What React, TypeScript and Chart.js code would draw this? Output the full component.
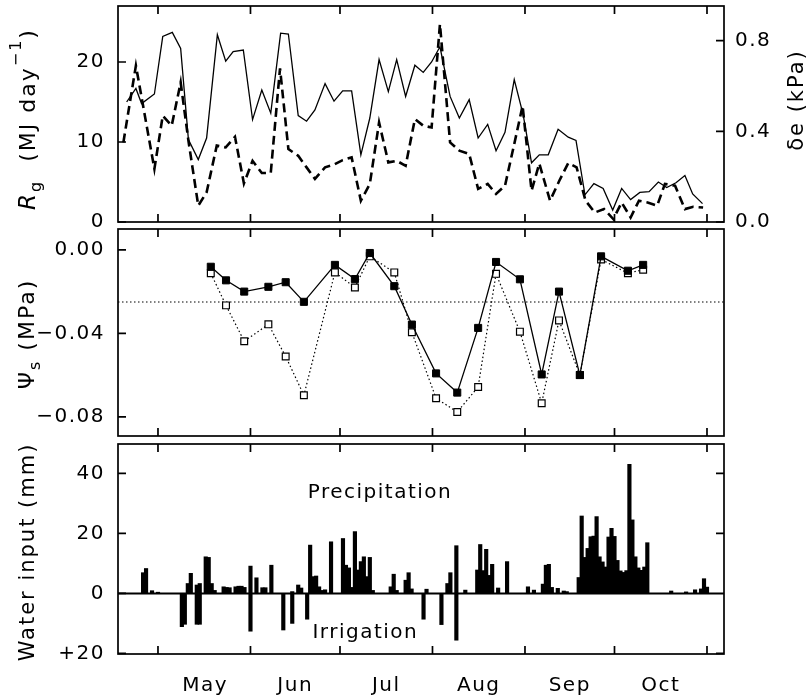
import React, { useEffect, useRef } from 'react';
import { Chart, registerables } from 'chart.js';

Chart.register(...registerables);

// ---------------- data ----------------
const monthTickDays = [121, 152, 182, 213, 244, 274, 305];
const monthLabels = ['May', 'Jun', 'Jul', 'Aug', 'Sep', 'Oct'];
const monthLabelDays = [136.8, 167, 197.5, 228.5, 259, 289.5];

const rgDays = [110.5, 113.6, 115.5, 119.8, 122.6, 125.8, 128.6, 131.2, 134.5, 137.3, 140.9, 143.7, 146.2, 149.6, 152.7, 155.8, 158.8, 162.1, 164.7, 168.0, 170.8, 173.6, 177.0, 180.0, 182.9, 185.9, 189.0, 192.0, 195.1, 198.2, 201.0, 204.0, 207.1, 209.9, 212.7, 215.5, 218.9, 222.0, 225.3, 228.3, 231.5, 234.3, 237.3, 240.4, 243.4, 246.2, 248.8, 251.8, 255.1, 258.5, 261.1, 264.1, 267.1, 270.2, 273.4, 276.4, 279.4, 282.5, 285.6, 288.7, 291.5, 294.6, 297.6, 300.2, 303.5];
const rgValues = [15.0, 16.7, 14.8, 16.0, 23.2, 23.7, 21.7, 10.3, 7.8, 10.5, 23.4, 20.1, 21.3, 21.5, 12.8, 16.5, 13.6, 23.6, 23.5, 13.3, 12.6, 14.0, 17.3, 15.1, 16.4, 16.4, 8.4, 13.0, 20.3, 16.3, 20.3, 15.7, 19.6, 18.7, 20.0, 21.9, 15.7, 13.0, 15.3, 10.5, 12.2, 8.9, 11.2, 17.8, 13.4, 7.4, 8.4, 8.4, 11.6, 10.6, 10.2, 3.4, 4.8, 4.2, 1.5, 4.2, 2.8, 3.7, 3.8, 5.0, 4.3, 4.9, 5.8, 3.5, 2.3];

const deDays = [109.4, 113.6, 119.8, 122.6, 125.6, 128.6, 131.2, 134.5, 137.3, 140.7, 143.7, 146.8, 149.8, 152.7, 155.8, 158.8, 161.9, 164.7, 168.0, 170.8, 173.6, 177.0, 180.0, 182.9, 185.9, 189.0, 192.0, 195.1, 198.2, 201.0, 204.0, 207.1, 209.9, 212.7, 215.5, 218.9, 222.0, 225.3, 228.3, 231.5, 234.3, 237.3, 240.4, 243.2, 246.2, 248.8, 252.4, 255.5, 258.5, 261.3, 264.3, 267.4, 270.5, 273.6, 276.4, 279.4, 282.2, 285.1, 288.3, 290.9, 294.3, 297.6, 300.4, 303.7];
const deValues = [0.351, 0.690, 0.234, 0.469, 0.425, 0.616, 0.359, 0.072, 0.131, 0.337, 0.329, 0.376, 0.170, 0.270, 0.216, 0.217, 0.678, 0.322, 0.292, 0.241, 0.190, 0.241, 0.253, 0.273, 0.285, 0.094, 0.168, 0.439, 0.263, 0.270, 0.248, 0.454, 0.425, 0.417, 0.873, 0.351, 0.315, 0.300, 0.146, 0.168, 0.124, 0.160, 0.344, 0.513, 0.138, 0.258, 0.094, 0.182, 0.260, 0.241, 0.094, 0.042, 0.057, 0.013, 0.086, 0.020, 0.094, 0.086, 0.072, 0.168, 0.160, 0.057, 0.067, 0.064];

const psiDays = [138.7, 143.8, 149.9, 158.0, 163.8, 169.9, 180.3, 187.0, 192.0, 200.2, 206.1, 214.2, 221.3, 228.3, 234.3, 242.3, 249.6, 255.4, 262.4, 269.5, 278.5, 283.6];
const psiFilled = [-0.0081, -0.0146, -0.0200, -0.0177, -0.0155, -0.0249, -0.0072, -0.0140, -0.0015, -0.0174, -0.0358, -0.0592, -0.0684, -0.0374, -0.0058, -0.0141, -0.0597, -0.0200, -0.0600, -0.0031, -0.0100, -0.0072];
const psiOpen = [-0.0112, -0.0266, -0.0438, -0.0357, -0.0511, -0.0697, -0.0108, -0.0180, -0.0031, -0.0108, -0.0395, -0.0711, -0.0777, -0.0657, -0.0115, -0.0392, -0.0735, -0.0338, -0.0600, -0.0046, -0.0112, -0.0095];
const psiReference = -0.025;

const rainDays = [116, 117, 119, 121, 131, 132, 134, 135, 137, 138, 139, 140, 143, 144, 145, 147, 148, 149, 150, 152, 154, 156, 157, 159, 166, 168, 169, 172, 173, 174, 175, 176, 177, 179, 183, 184, 185, 186, 187, 188, 189, 190, 191, 192, 193, 199, 200, 201, 204, 205, 206, 211, 218, 219, 221, 224, 228, 229, 230, 231, 232, 233, 235, 238, 245, 247, 250, 251, 252, 253, 255, 257, 258, 262, 263, 264, 265, 266, 267, 268, 269, 270, 271, 272, 273, 274, 275, 276, 277, 278, 279, 280, 281, 282, 283, 284, 285, 293, 298, 301, 303, 304, 305];
const rainValues = [6.9, 8.3, 0.9, 0.4, 3.3, 6.7, 2.8, 3.3, 12.2, 12.0, 3.3, 1.0, 2.2, 2.0, 1.9, 2.2, 2.4, 2.4, 2.0, 9.1, 5.2, 1.9, 1.9, 9.4, 0.6, 2.8, 1.8, 16.1, 5.6, 5.8, 2.2, 1.0, 1.2, 17.2, 18.3, 9.4, 8.5, 2.0, 20.6, 7.8, 10.6, 12.2, 5.6, 12.0, 1.0, 2.2, 6.4, 1.0, 4.4, 6.9, 1.5, 1.4, 3.3, 6.9, 15.9, 1.1, 7.8, 16.3, 7.6, 14.7, 6.0, 9.7, 1.8, 10.6, 2.2, 1.1, 3.1, 9.4, 9.7, 2.0, 1.7, 0.8, 0.6, 5.3, 25.8, 12.0, 15.0, 18.9, 19.1, 25.6, 12.2, 10.5, 8.8, 18.8, 21.7, 19.0, 11.0, 7.5, 7.0, 7.6, 43.0, 24.5, 12.2, 8.5, 7.7, 8.8, 16.9, 0.8, 0.5, 1.2, 1.5, 4.9, 2.1];

const irrigDays = [129, 130, 134, 135, 152, 163, 166, 171, 210, 216, 221];
const irrigValues = [-11.1, -10.3, -10.3, -10.3, -12.6, -12.2, -10.0, -8.6, -8.6, -10.4, -15.6];

const rgTicks = [0, 10, 20];
const deTicks = [0, 0.4, 0.8];
const psiTicks = [0, -0.04, -0.08];
const waterTicks = [40, 20, 0, -20];
const waterRightTicks = [40, 20, -20];

const waterNotes = [
  { text: 'Precipitation', day: 195.4, value: 31.7 },
  { text: 'Irrigation', day: 190.5, value: -15 },
];

// ---------------- layout / style ----------------
const W = 809;
const X_MIN = 107.6;
const X_MAX = 310.7;
const FONT = '"DejaVu Sans", "Liberation Sans", sans-serif';
const TICK_FONT = { family: FONT, size: 20 };

const pts = (xs: number[], ys: number[]) => xs.map((x, i) => ({ x, y: ys[i] }));

const spacingPlugin = {
  id: 'spacing',
  beforeDraw(chart: any) {
    chart.ctx.letterSpacing = '1.5px';
  },
};

function framePlugin(cfg: { leftId: string; leftTicks: number[]; rightId?: string; rightTicks?: number[] }) {
  return {
    id: 'frame',
    afterDatasetsDraw(chart: any) {
      const { ctx, chartArea: a, scales } = chart;
      ctx.save();
      ctx.setLineDash([]);
      ctx.strokeStyle = '#000';
      ctx.lineWidth = 1.7;
      ctx.strokeRect(a.left, a.top, a.right - a.left, a.bottom - a.top);
      ctx.beginPath();
      monthTickDays.forEach((d) => {
        const x = scales.x.getPixelForValue(d);
        ctx.moveTo(x, a.top);
        ctx.lineTo(x, a.top + 8);
        ctx.moveTo(x, a.bottom);
        ctx.lineTo(x, a.bottom - 8);
      });
      cfg.leftTicks.forEach((v) => {
        const y = scales[cfg.leftId].getPixelForValue(v);
        ctx.moveTo(a.left, y);
        ctx.lineTo(a.left + 8, y);
      });
      if (cfg.rightId && cfg.rightTicks) {
        cfg.rightTicks.forEach((v) => {
          const y = scales[cfg.rightId!].getPixelForValue(v);
          ctx.moveTo(a.right, y);
          ctx.lineTo(a.right - 8, y);
        });
      }
      ctx.stroke();
      ctx.restore();
    },
  };
}

type Seg = { t: string; size: number; italic?: boolean; dy?: number };
function titlePlugin(items: { x: number; y: number; segs: Seg[] }[]) {
  return {
    id: 'titles',
    afterDraw(chart: any) {
      const ctx = chart.ctx;
      items.forEach((it) => {
        ctx.save();
        ctx.translate(it.x, it.y);
        ctx.rotate(-Math.PI / 2);
        ctx.letterSpacing = '2px';
        ctx.fillStyle = '#000';
        ctx.textAlign = 'left';
        ctx.textBaseline = 'alphabetic';
        let total = 0;
        const widths = it.segs.map((s) => {
          ctx.font = `${s.italic ? 'italic ' : ''}${s.size}px ${FONT}`;
          const w = ctx.measureText(s.t).width;
          total += w;
          return w;
        });
        let x = -total / 2;
        it.segs.forEach((s, i) => {
          ctx.font = `${s.italic ? 'italic ' : ''}${s.size}px ${FONT}`;
          ctx.fillText(s.t, x, s.dy || 0);
          x += widths[i];
        });
        ctx.restore();
      });
    },
  };
}

const notesPlugin = {
  id: 'notes',
  afterDatasetsDraw(chart: any) {
    const { ctx, scales } = chart;
    ctx.save();
    ctx.letterSpacing = '1.5px';
    ctx.font = `20px ${FONT}`;
    ctx.fillStyle = '#000';
    ctx.textAlign = 'center';
    ctx.textBaseline = 'alphabetic';
    waterNotes.forEach((n) => {
      ctx.fillText(n.text, scales.x.getPixelForValue(n.day), scales.y.getPixelForValue(n.value));
    });
    ctx.restore();
  },
};

const zeroPad = (s: any) => {
  s.paddingTop = 0;
  s.paddingBottom = 0;
  s.paddingLeft = 0;
  s.paddingRight = 0;
};

const xScale = (show: boolean) => ({
  type: 'linear',
  min: X_MIN,
  max: X_MAX,
  offset: false,
  display: show,
  bounds: 'data',
  grid: { display: false, drawTicks: false },
  border: { display: false },
  afterBuildTicks: (s: any) => {
    s.ticks = monthLabelDays.map((v) => ({ value: v }));
  },
  afterFit: (s: any) => {
    s.height = show ? 43 : 0;
    zeroPad(s);
  },
  ticks: {
    autoSkip: false,
    maxRotation: 0,
    minRotation: 0,
    padding: 20,
    color: '#000',
    font: TICK_FONT,
    callback: (_v: any, i: number) => monthLabels[i],
  },
});

const yScale = (position: string, min: number, max: number, ticks: number[], fmt: (v: number) => string, width: number, padding: number) => ({
  type: 'linear',
  position,
  min,
  max,
  bounds: 'data',
  grid: { display: false, drawTicks: false },
  border: { display: false },
  afterBuildTicks: (s: any) => {
    s.ticks = ticks.map((v) => ({ value: v }));
  },
  afterFit: (s: any) => {
    s.width = width;
    zeroPad(s);
  },
  ticks: {
    padding,
    color: '#000',
    font: TICK_FONT,
    autoSkip: false,
    callback: (v: any) => fmt(Number(v)),
  },
});

const common = {
  responsive: false,
  animation: false,
  devicePixelRatio: 1,
  events: [],
};

export default function App() {
  const r1 = useRef<HTMLCanvasElement>(null);
  const r2 = useRef<HTMLCanvasElement>(null);
  const r3 = useRef<HTMLCanvasElement>(null);

  useEffect(() => {
    const charts: Chart[] = [];

    charts.push(
      new Chart(r1.current!, {
        type: 'line',
        data: {
          datasets: [
            { data: pts(rgDays, rgValues), yAxisID: 'y', borderColor: '#000', borderWidth: 1.3, pointRadius: 0, tension: 0, fill: false },
            { data: pts(deDays, deValues), yAxisID: 'y2', borderColor: '#000', borderWidth: 2.6, borderDash: [9, 5], pointRadius: 0, tension: 0, fill: false },
          ],
        },
        options: {
          ...common,
          layout: { padding: { top: 6, bottom: 18, left: 0, right: 0 } },
          plugins: { legend: { display: false }, tooltip: { enabled: false } },
          scales: {
            x: xScale(false),
            y: yScale('left', 0, 27, rgTicks, (v) => String(v), 118, 13),
            y2: yScale('right', 0, 0.953, deTicks, (v) => v.toFixed(1), 85, 11),
          },
        } as any,
        plugins: [
          spacingPlugin,
          framePlugin({ leftId: 'y', leftTicks: rgTicks, rightId: 'y2', rightTicks: deTicks }),
          titlePlugin([
            {
              x: 35,
              y: 119,
              segs: [
                { t: 'R', size: 23, italic: true },
                { t: 'g', size: 16, dy: 6 },
                { t: '  (MJ day', size: 22 },
                { t: '\u22121', size: 16, dy: -14 },
                { t: ')', size: 22 },
              ],
            },
            { x: 803, y: 100, segs: [{ t: '\u03b4e (kPa)', size: 21 }] },
          ]),
        ],
      } as any)
    );

    charts.push(
      new Chart(r2.current!, {
        type: 'line',
        data: {
          datasets: [
            {
              data: pts(psiDays, psiFilled),
              borderColor: '#000',
              borderWidth: 1.3,
              pointStyle: 'rect',
              pointRadius: 5,
              pointBackgroundColor: '#000',
              pointBorderColor: '#000',
              pointBorderWidth: 1,
              tension: 0,
            },
            {
              data: pts(psiDays, psiOpen),
              borderColor: '#000',
              borderWidth: 1.2,
              borderDash: [1.5, 2.5],
              pointStyle: 'rect',
              pointRadius: 4.8,
              pointBackgroundColor: '#fff',
              pointBorderColor: '#000',
              pointBorderWidth: 1.2,
              tension: 0,
            },
            {
              data: [
                { x: X_MIN, y: psiReference },
                { x: X_MAX, y: psiReference },
              ],
              borderColor: '#000',
              borderWidth: 1.1,
              borderDash: [1.5, 2.5],
              pointRadius: 0,
            },
          ],
        },
        options: {
          ...common,
          layout: { padding: { top: 2, bottom: 2, left: 0, right: 85 } },
          plugins: { legend: { display: false }, tooltip: { enabled: false } },
          scales: {
            x: xScale(false),
            y: yScale('left', -0.0892, 0.01, psiTicks, (v) => (v < 0 ? '\u2212' + Math.abs(v).toFixed(2) : '0.00'), 118, 13),
          },
        } as any,
        plugins: [
          spacingPlugin,
          framePlugin({ leftId: 'y', leftTicks: psiTicks }),
          titlePlugin([
            {
              x: 34,
              y: 111,
              segs: [
                { t: '\u03a8', size: 22 },
                { t: 's', size: 16, dy: 6 },
                { t: ' (MPa)', size: 22 },
              ],
            },
          ]),
        ],
      } as any)
    );

    charts.push(
      new Chart(r3.current!, {
        type: 'bar',
        data: {
          datasets: [
            {
              type: 'line',
              data: [
                { x: X_MIN, y: 0 },
                { x: X_MAX, y: 0 },
              ],
              borderColor: '#000',
              borderWidth: 2,
              pointRadius: 0,
            },
            { type: 'bar', data: pts(rainDays, rainValues), backgroundColor: '#000', barThickness: 3.5, grouped: false },
            { type: 'bar', data: pts(irrigDays, irrigValues), backgroundColor: '#000', barThickness: 3.5, grouped: false },
          ],
        },
        options: {
          ...common,
          layout: { padding: { top: 2, bottom: 0, left: 0, right: 85 } },
          plugins: { legend: { display: false }, tooltip: { enabled: false } },
          scales: {
            x: xScale(true),
            y: yScale('left', -20.2, 49.8, waterTicks, (v) => (v < 0 ? '+' + Math.abs(v) : String(v)), 118, 13),
          },
        } as any,
        plugins: [
          spacingPlugin,
          notesPlugin,
          framePlugin({ leftId: 'y', leftTicks: waterTicks, rightId: 'y', rightTicks: waterRightTicks }),
          titlePlugin([{ x: 34, y: 110, segs: [{ t: 'Water input (mm)', size: 21 }] }]),
        ],
      } as any)
    );

    return () => charts.forEach((c) => c.destroy());
  }, []);

  const cs = (top: number): React.CSSProperties => ({ position: 'absolute', left: 0, top, display: 'block' });

  return (
    <div style={{ position: 'absolute', left: 0, top: 0, width: W, height: 697, background: '#fff', overflow: 'hidden' }}>
      <canvas ref={r1} width={W} height={240} style={cs(0)} />
      <canvas ref={r2} width={W} height={219} style={cs(223)} />
      <canvas ref={r3} width={W} height={255} style={cs(442)} />
    </div>
  );
}
